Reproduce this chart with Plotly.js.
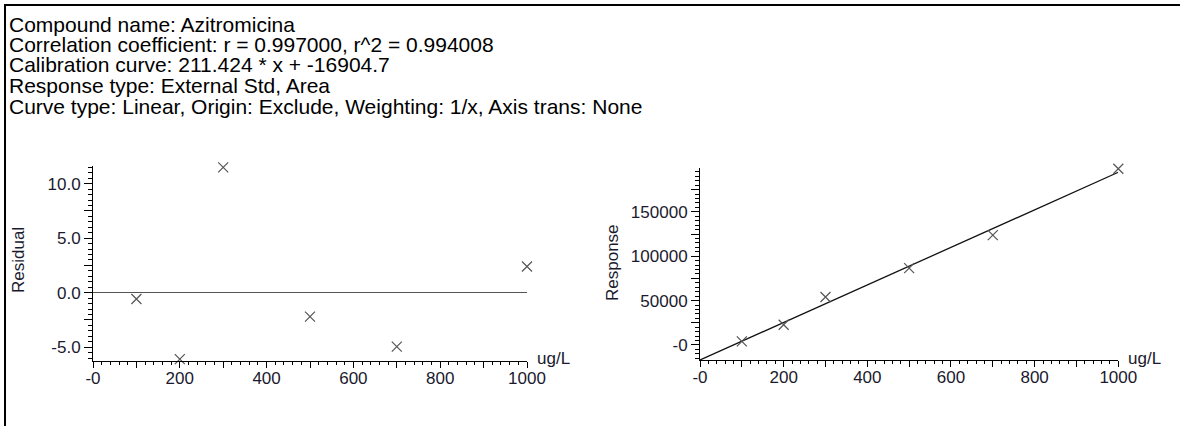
<!DOCTYPE html>
<html>
<head>
<meta charset="utf-8">
<script src="https://cdn.plot.ly/plotly-3.0.1.min.js"></script>
<style>
  html, body { margin: 0; padding: 0; background: #fff; }
  #chart { width: 1180px; height: 426px; }
</style>
</head>
<body>
<div id="chart"></div>
<script>
// ---- Data ----
const headerLines = [
  "Compound name: Azitromicina",
  "Correlation coefficient: r = 0.997000, r^2 = 0.994008",
  "Calibration curve: 211.424 * x + -16904.7",
  "Response type: External Std, Area",
  "Curve type: Linear, Origin: Exclude, Weighting: 1/x, Axis trans: None"
];
const concentration = [100, 200, 300, 500, 700, 1000];      // ug/L
const residual      = [-0.58, -6.1, 11.5, -2.2, -4.95, 2.4]; // %
const response      = [4100, 22800, 54000, 86500, 123800, 198500];
const slope = 211.424;
const intercept = -16904.7;
const fitX = [0, 1000];

const xTickVals = [0, 100, 200, 300, 400, 500, 600, 700, 800, 900, 1000];
const xTickText = ["-0", "", "200", "", "400", "", "600", "", "800", "", "1000"];
const resTickVals = [-5, -2.5, 0, 2.5, 5, 7.5, 10];
const resTickText = ["-5.0", "", "0.0", "", "5.0", "", "10.0"];
const respTickVals = [0, 25000, 50000, 75000, 100000, 125000, 150000, 175000];
const respTickText = ["-0", "", "50000", "", "100000", "", "150000", ""];

// ---- Geometry helpers (pixel -> paper) ----
const W = 1180, H = 426;
const px = v => v / W;
const py = v => 1 - v / H;

const fitY = fitX.map(x => slope * x + intercept);

const markerStyle = {
  symbol: "x-thin",
  size: 10,
  line: { width: 1.2, color: "#555" },
  color: "#555"
};

const traces = [
  {
    x: concentration, y: residual, xaxis: "x", yaxis: "y",
    type: "scatter", mode: "markers", marker: markerStyle, cliponaxis: false, hoverinfo: "x+y"
  },
  {
    x: fitX, y: fitY, xaxis: "x2", yaxis: "y2",
    type: "scatter", mode: "lines", line: { color: "#111", width: 1.3 }, cliponaxis: false, hoverinfo: "skip"
  },
  {
    x: concentration, y: response, xaxis: "x2", yaxis: "y2",
    type: "scatter", mode: "markers", marker: markerStyle, cliponaxis: false, hoverinfo: "x+y"
  }
];

const tickFont = { family: "Liberation Sans, Arial, sans-serif", size: 17, color: "#1a1a2e" };

function xAxis(domain, anchor) {
  return {
    domain: domain, anchor: anchor, range: [0, 1000],
    tickmode: "array", tickvals: xTickVals, ticktext: xTickText,
    ticks: "outside", ticklen: 6, tickwidth: 1, tickcolor: "#000",
    ticklabelstandoff: -4,
    minor: { tickmode: "linear", tick0: 0, dtick: 20, ticks: "outside", ticklen: 3, tickwidth: 1, tickcolor: "#000" },
    showline: true, linecolor: "#000", linewidth: 1,
    showgrid: false, zeroline: false, tickfont: tickFont, fixedrange: true
  };
}

const layout = {
  width: W, height: H,
  margin: { l: 0, r: 0, t: 0, b: 0 },
  paper_bgcolor: "#fff", plot_bgcolor: "#fff",
  showlegend: false,
  xaxis: xAxis([px(93), px(527)], "y"),
  yaxis: {
    domain: [py(360.7), py(166)], anchor: "x", range: [-6.24, 11.62],
    tickmode: "array", tickvals: resTickVals, ticktext: resTickText,
    ticks: "outside", ticklen: 8, tickwidth: 1, tickcolor: "#000",
    minor: { tickmode: "linear", tick0: 0, dtick: 0.5, ticks: "outside", ticklen: 4, tickwidth: 1, tickcolor: "#000" },
    showline: true, linecolor: "#000", linewidth: 1,
    showgrid: false, zeroline: true, zerolinecolor: "#555", zerolinewidth: 1.5,
    tickfont: tickFont, fixedrange: true
  },
  xaxis2: xAxis([px(700), px(1118.3)], "y2"),
  yaxis2: {
    domain: [py(360), py(168.3)], anchor: "x2", range: [intercept, 199000],
    tickmode: "array", tickvals: respTickVals, ticktext: respTickText,
    ticks: "outside", ticklen: 8, tickwidth: 1, tickcolor: "#000",
    minor: { tickmode: "linear", tick0: 0, dtick: 5000, ticks: "outside", ticklen: 4, tickwidth: 1, tickcolor: "#000" },
    showline: true, linecolor: "#000", linewidth: 1,
    showgrid: false, zeroline: false,
    tickfont: tickFont, fixedrange: true
  },
  annotations: [],
  shapes: [
    { type: "line", xref: "paper", yref: "paper", x0: px(5), x1: px(5), y0: 0, y1: py(5), line: { color: "#000", width: 2 } },
    { type: "line", xref: "paper", yref: "paper", x0: px(4), x1: 1, y0: py(5), y1: py(5), line: { color: "#000", width: 2 } }
  ]
};

const headerFont = { family: "Liberation Sans, Arial, sans-serif", size: 21, color: "#000" };
headerLines.forEach((t, i) => {
  layout.annotations.push({
    text: t, xref: "paper", yref: "paper", x: px(7), y: py(24 + i * 20.5),
    xanchor: "left", yanchor: "middle", showarrow: false, font: headerFont
  });
});

const labelFont = { family: "Liberation Sans, Arial, sans-serif", size: 17, color: "#1a1a2e" };
layout.annotations.push(
  { text: "Residual", xref: "paper", yref: "paper", x: px(18), y: py(260), textangle: -90,
    xanchor: "center", yanchor: "middle", showarrow: false, font: labelFont },
  { text: "Response", xref: "paper", yref: "paper", x: px(612), y: py(263), textangle: -90,
    xanchor: "center", yanchor: "middle", showarrow: false, font: labelFont },
  { text: "ug/L", xref: "paper", yref: "paper", x: px(535), y: py(358),
    xanchor: "left", yanchor: "middle", showarrow: false, font: labelFont },
  { text: "ug/L", xref: "paper", yref: "paper", x: px(1126), y: py(358),
    xanchor: "left", yanchor: "middle", showarrow: false, font: labelFont }
);

Plotly.newPlot("chart", traces, layout, { displayModeBar: false, staticPlot: true });
</script>
</body>
</html>
